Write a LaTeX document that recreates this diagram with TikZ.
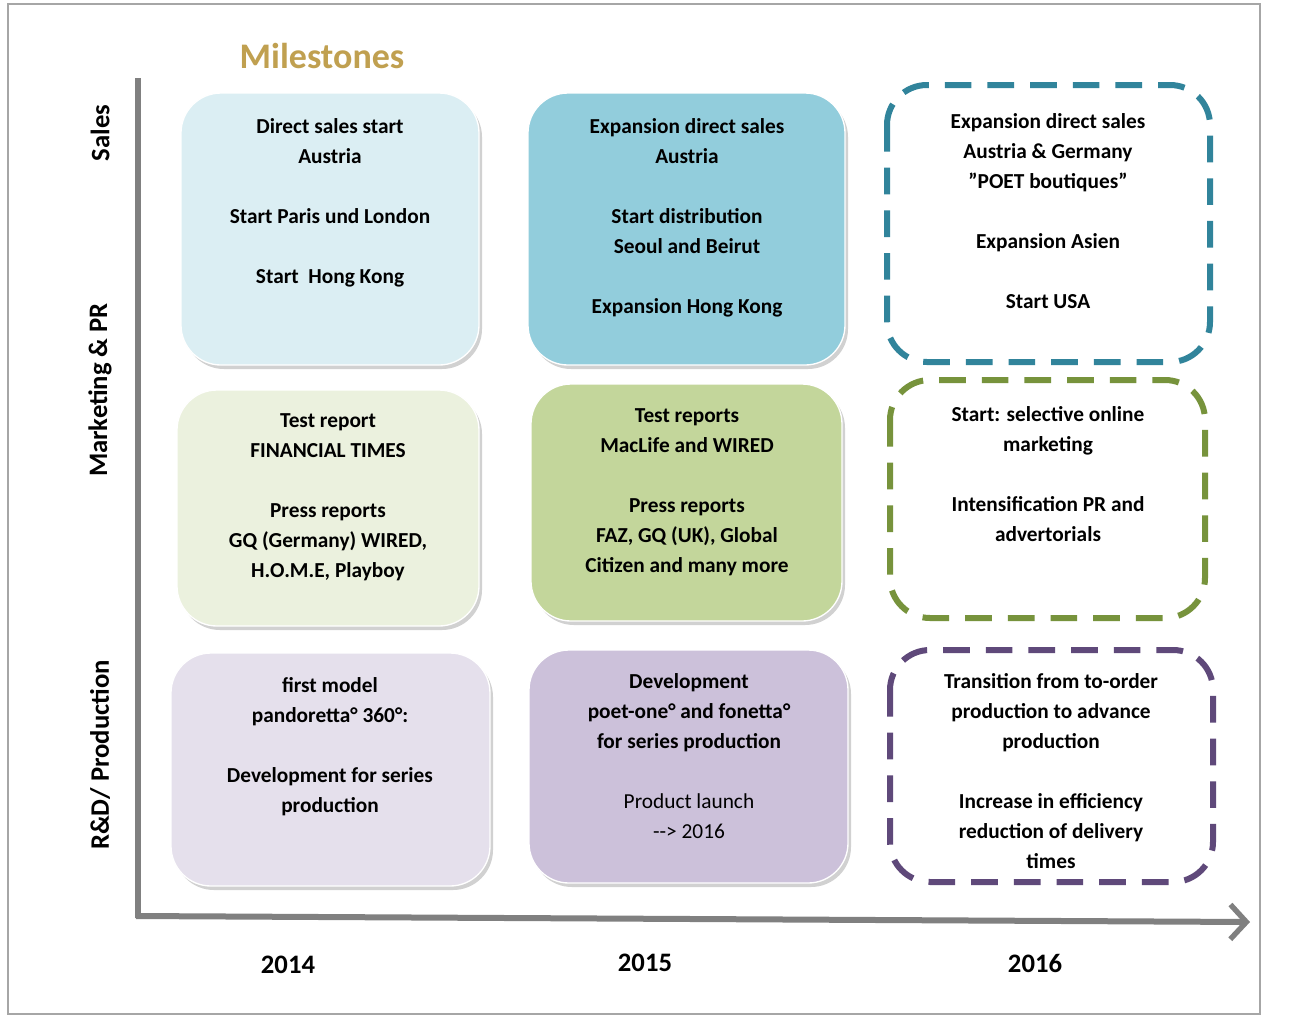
\documentclass[tikz,border=0pt]{standalone}
\usepackage{fontspec}
\setmainfont{Carlito}
\usetikzlibrary{arrows.meta}
\definecolor{axg}{RGB}{128,128,128}
\definecolor{fA}{RGB}{219,238,243}
\definecolor{fB}{RGB}{146,205,220}
\definecolor{fC}{RGB}{235,241,222}
\definecolor{fD}{RGB}{195,214,155}
\definecolor{fE}{RGB}{229,224,236}
\definecolor{fF}{RGB}{204,193,218}
\definecolor{dA}{RGB}{49,132,155}
\definecolor{dB}{RGB}{119,147,60}
\definecolor{dC}{RGB}{95,73,122}
\definecolor{gold}{RGB}{192,160,80}
\tikzset{
  solidbox/.style={rounded corners=30pt, draw=white, line width=1pt},
  dashbox/.style={rounded corners=30pt, line width=4.5pt, dash pattern=on 20pt off 12pt},
  txt/.style={anchor=north, align=center, inner sep=0pt, font=\fontsize{16}{22.5}\selectfont\bfseries},
  lab/.style={font=\fontsize{20}{24}\selectfont\bfseries, inner sep=0pt},
}
\begin{document}
\begin{tikzpicture}[x=0.75pt,y=-0.75pt]
\fill[white] (0,0) rectangle (1296,1026);
\draw[gray!70, line width=1pt] (8,4) rectangle (1260,1014);
\node[lab, text=gold, font=\fontsize{27}{30}\selectfont\bfseries] (ms) at (322,56) {Milestones};
% axes
\coordinate (ytop) at (138,78);
\coordinate (o) at (136,916);
\coordinate (xend) at (1250,922);
\draw[axg, line width=4.5pt] (ytop) -- (138,918);
\draw[axg, line width=4.5pt, -{Straight Barb[length=12pt,width=26pt,line width=4pt]}] (o) -- (xend);
% axis labels
\node[lab, rotate=90] (sales) at (100,133) {Sales};
\node[lab, rotate=90] (mkt) at (100,390) {Marketing \& PR};
\node[lab, rotate=90] (rd) at (100,755) {R\&D/ Production};
\node[lab] (y1) at (288,965) {2014};
\node[lab] (y2) at (645,963) {2015};
\node[lab] (y3) at (1035,963) {2016};
% shadows
\foreach \a/\b/\c/\d in {181/93/479/365, 528/93/845/365, 177/390/479/626, 531/384/842/621, 171/653/490/886, 529/650/848/883}
  \fill[black!18, rounded corners=30pt] (\a+3,\b+4) rectangle (\c+3,\d+4);
% row 1
\draw[solidbox, fill=fA] (181,93) rectangle (479,365);
\draw[solidbox, fill=fB] (528,93) rectangle (845,365);
\draw[dashbox, draw=dA] (887,85) rectangle (1210,362);
\node[txt] (t11) at (330,118) {Direct sales start\\Austria\\[22.5pt]Start Paris und London\\[22.5pt]Start~ Hong Kong};
\node[txt] (t12) at (687,118) {Expansion direct sales\\Austria\\[22.5pt]Start distribution\\Seoul and Beirut\\[22.5pt]Expansion Hong Kong};
\node[txt] (t13) at (1048,113) {Expansion direct sales\\Austria \& Germany\\"POET boutiques"\\[22.5pt]Expansion Asien\\[22.5pt]Start USA};
% row 2
\draw[solidbox, fill=fC] (177,390) rectangle (479,626);
\draw[solidbox, fill=fD] (531,384) rectangle (842,621);
\draw[dashbox, draw=dB] (890,380) rectangle (1205,618);
\node[txt] (t21) at (328,413) {Test report\\FINANCIAL TIMES\\[22.5pt]Press reports\\GQ (Germany) WIRED,\\H.O.M.E, Playboy};
\node[txt] (t22) at (687,408) {Test reports\\MacLife and WIRED\\[22.5pt]Press reports\\FAZ, GQ (UK), Global\\Citizen and many more};
\node[txt] (t23) at (1048,406) {Start: selective online\\marketing\\[22.5pt]Intensification PR and\\advertorials};
% row 3
\draw[solidbox, fill=fE] (171,653) rectangle (490,886);
\draw[solidbox, fill=fF] (529,650) rectangle (848,883);
\draw[dashbox, draw=dC] (890,650) rectangle (1213,882);
\node[txt] (t31) at (330,677) {first model\\pandoretta° 360°:\\[22.5pt]Development for series\\production};
\node[txt] (t32) at (689,673) {Development\\poet-one° and fonetta°\\for series production\\[22.5pt]\mdseries Product launch\\\mdseries -{}-> 2016};
\node[txt] (t33) at (1051,673) {Transition from to-order\\production to advance\\production\\[22.5pt]Increase in efficiency\\reduction of delivery\\times};
\end{tikzpicture}
\end{document}
